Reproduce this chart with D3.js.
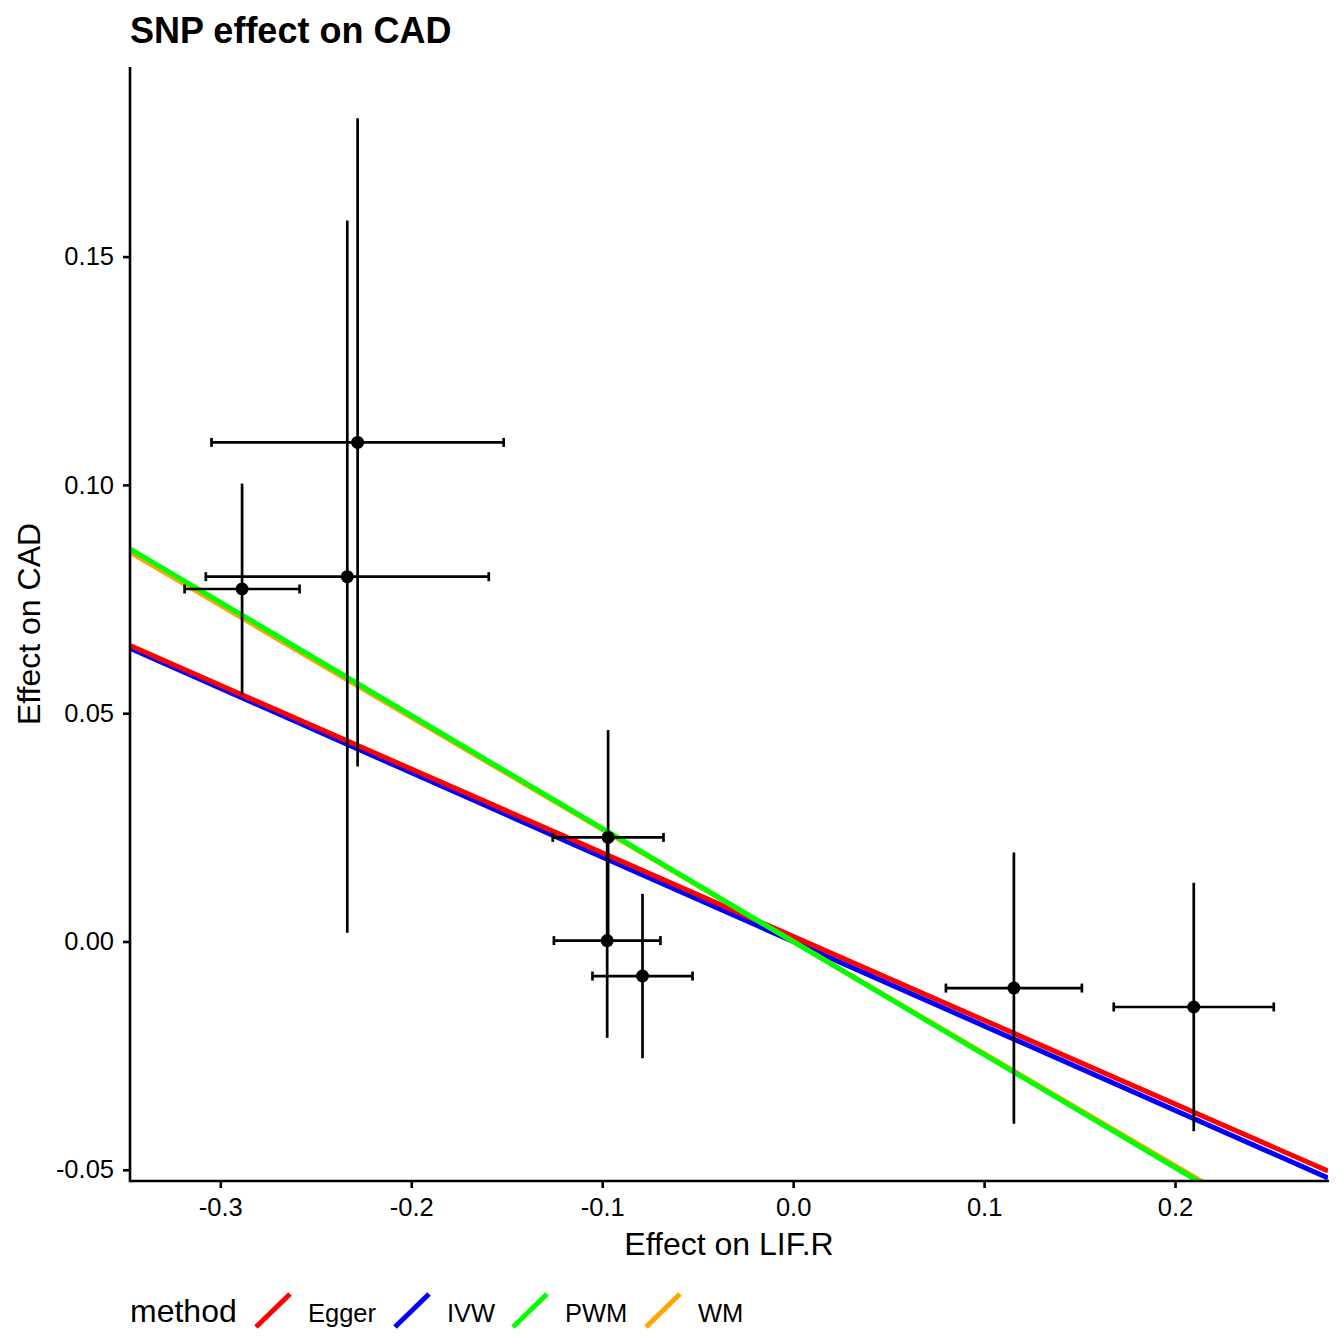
<!DOCTYPE html>
<html>
<head>
<meta charset="utf-8">
<script src="https://cdn.jsdelivr.net/npm/d3@7"></script>
<style>
  html, body { margin: 0; padding: 0; background: #fff; }
  text { font-family: "Liberation Sans", Arial, Helvetica, sans-serif; }
</style>
</head>
<body>
<svg id="chart" width="1344" height="1344"></svg>
<script>
// ---- data ----
const snpBetaX = [-0.2886, -0.2281, -0.2335, -0.0969, -0.0974, -0.0789, 0.1156, 0.2098];
const snpSeX   = [0.0301, 0.0765, 0.0741, 0.0290, 0.0279, 0.0262, 0.0356, 0.0419];
const snpBetaY = [0.0772, 0.1093, 0.0799, 0.0228, 0.0002, -0.00756, -0.0102, -0.01434];
const snpSeY   = [0.0231, 0.0710, 0.0780, 0.0235, 0.0213, 0.0180, 0.0297, 0.0272];

const methodNames      = ["Egger", "IVW", "PWM", "WM"];
const methodSlopes     = [-0.1834, -0.1849, -0.2476, -0.2455];
const methodIntercepts = [0.0011, 0, 0, 0];
const methodColors     = ["#FF0000", "#0000FF", "#00FF00", "#FFA500"];
const drawOrder        = ["IVW", "Egger", "WM", "PWM"];

const xTicks = [-0.3, -0.2, -0.1, 0.0, 0.1, 0.2];
const yTicks = [-0.05, 0.00, 0.05, 0.10, 0.15];

const titleText = "SNP effect on CAD";
const xTitle = "Effect on LIF.R";
const yTitle = "Effect on CAD";
const legendTitle = "method";

// ---- layout ----
const panel = { left: 130, right: 1328, top: 67, bottom: 1181 };
const svg = d3.select("#chart");

const x = d3.scaleLinear().domain([-0.3473, 0.2801]).range([panel.left, panel.right]);
const y = d3.scaleLinear().domain([-0.05245, 0.19152]).range([panel.bottom, panel.top]);

svg.append("defs").append("clipPath").attr("id", "clip")
  .append("rect")
  .attr("x", panel.left).attr("y", panel.top)
  .attr("width", panel.right - panel.left).attr("height", panel.bottom - panel.top);

// ---- regression lines ----
const gLines = svg.append("g").attr("clip-path", "url(#clip)");
const [x0, x1] = x.domain();
drawOrder.forEach(name => {
  const i = methodNames.indexOf(name);
  const s = methodSlopes[i], b = methodIntercepts[i];
  gLines.append("line")
    .attr("x1", x(x0)).attr("y1", y(b + s * x0))
    .attr("x2", x(x1)).attr("y2", y(b + s * x1))
    .attr("stroke", methodColors[i])
    .attr("stroke-width", 5);
});

// ---- error bars & points ----
const gPts = svg.append("g");
const capH = 4.5;
snpBetaX.forEach((bx, i) => {
  const by = snpBetaY[i], sx = snpSeX[i], sy = snpSeY[i];
  gPts.append("line")
    .attr("x1", x(bx)).attr("x2", x(bx))
    .attr("y1", y(by - sy)).attr("y2", y(by + sy))
    .attr("stroke", "#000").attr("stroke-width", 2.7);
  gPts.append("line")
    .attr("x1", x(bx - sx)).attr("x2", x(bx + sx))
    .attr("y1", y(by)).attr("y2", y(by))
    .attr("stroke", "#000").attr("stroke-width", 2.7);
  [bx - sx, bx + sx].forEach(cx => {
    gPts.append("line")
      .attr("x1", x(cx)).attr("x2", x(cx))
      .attr("y1", y(by) - capH).attr("y2", y(by) + capH)
      .attr("stroke", "#000").attr("stroke-width", 2.7);
  });
});
snpBetaX.forEach((bx, i) => {
  gPts.append("circle")
    .attr("cx", x(bx)).attr("cy", y(snpBetaY[i]))
    .attr("r", 6.5).attr("fill", "#000");
});

// ---- axes ----
const xAxis = d3.axisBottom(x).tickValues(xTicks).tickSize(7).tickPadding(10)
  .tickFormat(d3.format(".1f"));
const yAxis = d3.axisLeft(y).tickValues(yTicks).tickSize(7).tickPadding(9)
  .tickFormat(d3.format(".2f"));

const gx = svg.append("g").attr("transform", `translate(0,${panel.bottom})`).call(xAxis);
const gy = svg.append("g").attr("transform", `translate(${panel.left},0)`).call(yAxis);

[gx, gy].forEach(g => {
  g.select(".domain").remove();
  g.selectAll(".tick line").attr("stroke", "#000").attr("stroke-width", 2.6);
  g.selectAll(".tick text").attr("fill", "#000").style("font-size", "25.5px")
    .style("font-family", '"Liberation Sans", Arial, sans-serif');
});
gx.selectAll(".tick text").text(d => d3.format(".1f")(d).replace("−", "-"));
gy.selectAll(".tick text").text(d => d3.format(".2f")(d).replace("−", "-"));

svg.append("line").attr("x1", panel.left).attr("x2", panel.right + 1)
  .attr("y1", panel.bottom).attr("y2", panel.bottom)
  .attr("stroke", "#000").attr("stroke-width", 2.6);
svg.append("line").attr("x1", panel.left).attr("x2", panel.left)
  .attr("y1", panel.top).attr("y2", panel.bottom + 1.3)
  .attr("stroke", "#000").attr("stroke-width", 2.6);

// ---- titles ----
svg.append("text").attr("x", 130).attr("y", 43)
  .style("font-size", "36px").style("font-weight", "bold").attr("fill", "#000")
  .text(titleText);

svg.append("text").attr("x", (panel.left + panel.right) / 2).attr("y", 1255)
  .attr("text-anchor", "middle").style("font-size", "32px").attr("fill", "#000")
  .text(xTitle);

svg.append("text")
  .attr("transform", `translate(40,${(panel.top + panel.bottom) / 2}) rotate(-90)`)
  .attr("text-anchor", "middle").style("font-size", "32px").attr("fill", "#000")
  .text(yTitle);

// ---- legend ----
const legY = 1322;
svg.append("text").attr("x", 130).attr("y", legY)
  .style("font-size", "32px").attr("fill", "#000").text(legendTitle);

const keyX = [255, 394, 512, 645];
methodNames.forEach((name, i) => {
  const kx = keyX[i];
  svg.append("line")
    .attr("x1", kx + 1).attr("y1", 1327)
    .attr("x2", kx + 35).attr("y2", 1294)
    .attr("stroke", methodColors[i]).attr("stroke-width", 5);
  svg.append("text").attr("x", kx + 53).attr("y", legY)
    .style("font-size", "25.5px").attr("fill", "#000").text(name);
});
</script>
</body>
</html>
